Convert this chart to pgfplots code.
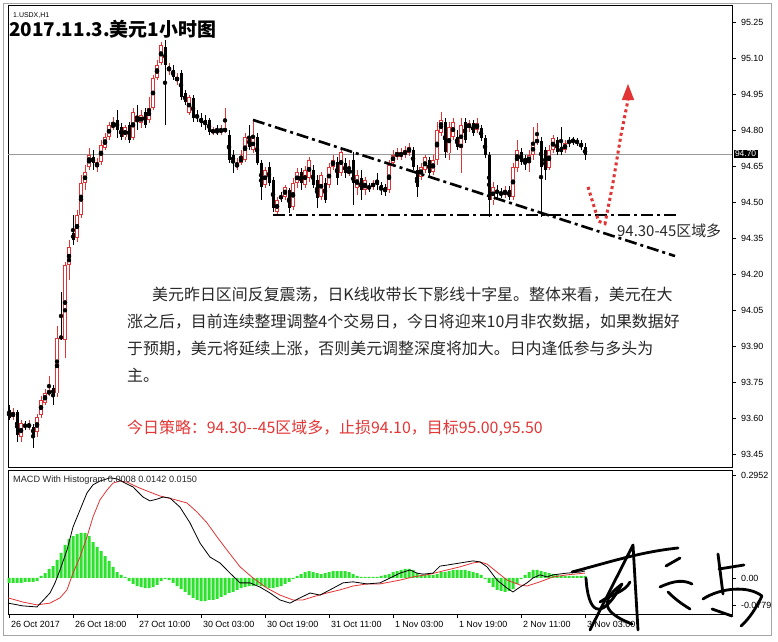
\documentclass[border=0pt]{standalone}
\usepackage{pgfplots}
\pgfplotsset{compat=1.18}
\usepackage{pgfplotstable}
\usepackage{fontspec}
\setmainfont{Liberation Sans}
\newfontfamily\cjk{Noto Sans CJK SC}
\definecolor{cred}{RGB}{226,52,52}
\definecolor{hgreen}{RGB}{44,226,44}
\definecolor{txt}{RGB}{40,40,40}
\definecolor{stratred}{RGB}{228,54,54}
\definecolor{framec}{RGB}{165,165,165}

\pgfplotstableread{
x o h l c
0 93.633 93.654 93.592 93.600
1 93.604 93.642 93.592 93.625
2 93.625 93.633 93.500 93.529
3 93.521 93.592 93.500 93.579
4 93.571 93.588 93.550 93.567
5 93.567 93.592 93.550 93.571
6 93.563 93.575 93.475 93.529
7 93.542 93.617 93.521 93.604
8 93.613 93.692 93.600 93.675
9 93.663 93.721 93.654 93.704
10 93.700 93.775 93.692 93.717
11 93.725 93.738 93.654 93.696
12 93.704 93.983 93.688 93.933
13 93.942 94.125 93.925 93.933
14 93.925 94.250 93.850 94.238
15 94.238 94.342 94.175 94.313
16 94.371 94.446 94.321 94.342
17 94.350 94.467 94.333 94.446
18 94.446 94.613 94.433 94.579
19 94.579 94.654 94.550 94.625
20 94.646 94.725 94.633 94.696
21 94.688 94.717 94.633 94.663
22 94.646 94.683 94.625 94.667
23 94.667 94.758 94.654 94.738
24 94.725 94.788 94.717 94.771
25 94.771 94.833 94.758 94.821
26 94.817 94.854 94.800 94.821
27 94.842 94.883 94.767 94.800
28 94.813 94.829 94.758 94.771
29 94.771 94.821 94.758 94.813
30 94.821 94.833 94.746 94.758
31 94.767 94.892 94.758 94.875
32 94.850 94.904 94.800 94.833
33 94.829 94.883 94.808 94.863
34 94.875 94.892 94.808 94.821
35 94.842 94.938 94.829 94.892
36 94.892 95.029 94.883 95.017
37 95.017 95.092 95.008 95.071
38 95.079 95.167 95.071 95.154
39 95.146 95.175 94.821 95.071
40 95.050 95.079 95.029 95.063
41 95.050 95.071 95.008 95.021
42 95.008 95.038 94.988 95.021
43 95.038 95.050 94.925 94.938
44 94.954 94.967 94.904 94.917
45 94.871 94.946 94.863 94.938
46 94.933 94.946 94.833 94.850
47 94.863 94.883 94.833 94.850
48 94.850 94.871 94.813 94.829
49 94.842 94.863 94.800 94.821
50 94.842 94.850 94.779 94.792
51 94.792 94.813 94.779 94.800
52 94.796 94.821 94.779 94.792
53 94.796 94.821 94.779 94.800
54 94.796 94.892 94.788 94.804
55 94.779 94.800 94.663 94.675
56 94.696 94.717 94.621 94.667
57 94.646 94.683 94.633 94.663
58 94.663 94.717 94.654 94.688
59 94.675 94.788 94.667 94.771
60 94.771 94.821 94.717 94.729
61 94.717 94.842 94.704 94.767
62 94.771 94.788 94.654 94.663
63 94.663 94.675 94.508 94.563
64 94.571 94.646 94.558 94.633
65 94.646 94.667 94.567 94.579
66 94.592 94.604 94.458 94.475
67 94.458 94.521 94.446 94.508
68 94.525 94.542 94.500 94.517
69 94.521 94.571 94.508 94.563
70 94.550 94.558 94.454 94.475
71 94.479 94.600 94.467 94.579
72 94.579 94.642 94.558 94.625
73 94.625 94.642 94.550 94.579
74 94.571 94.650 94.558 94.633
75 94.600 94.688 94.583 94.675
76 94.633 94.654 94.558 94.571
77 94.592 94.613 94.475 94.517
78 94.521 94.625 94.508 94.613
79 94.579 94.600 94.496 94.508
80 94.571 94.663 94.558 94.646
81 94.646 94.696 94.633 94.675
82 94.667 94.688 94.571 94.600
83 94.621 94.725 94.608 94.708
84 94.663 94.683 94.600 94.621
85 94.621 94.675 94.608 94.633
86 94.675 94.708 94.488 94.579
87 94.558 94.633 94.529 94.613
88 94.600 94.633 94.508 94.550
89 94.550 94.604 94.529 94.592
90 94.567 94.579 94.542 94.558
91 94.563 94.592 94.550 94.579
92 94.592 94.621 94.550 94.571
93 94.571 94.583 94.529 94.550
94 94.563 94.575 94.525 94.542
95 94.550 94.675 94.538 94.654
96 94.663 94.717 94.646 94.696
97 94.688 94.725 94.675 94.708
98 94.688 94.725 94.675 94.708
99 94.696 94.733 94.683 94.717
100 94.704 94.746 94.692 94.729
101 94.717 94.729 94.633 94.646
102 94.633 94.654 94.521 94.563
103 94.604 94.663 94.592 94.646
104 94.633 94.696 94.621 94.688
105 94.675 94.688 94.608 94.621
106 94.625 94.696 94.613 94.675
107 94.675 94.833 94.654 94.800
108 94.788 94.875 94.775 94.842
109 94.833 94.850 94.683 94.708
110 94.704 94.833 94.675 94.813
111 94.771 94.850 94.758 94.833
112 94.771 94.800 94.717 94.729
113 94.725 94.850 94.621 94.821
114 94.833 94.850 94.746 94.758
115 94.808 94.842 94.792 94.829
116 94.829 94.842 94.775 94.788
117 94.800 94.850 94.788 94.829
118 94.808 94.821 94.754 94.767
119 94.767 94.779 94.683 94.696
120 94.696 94.708 94.438 94.508
121 94.508 94.583 94.488 94.563
122 94.550 94.571 94.517 94.538
123 94.542 94.558 94.517 94.529
124 94.529 94.567 94.517 94.550
125 94.550 94.567 94.508 94.521
126 94.521 94.663 94.508 94.646
127 94.642 94.758 94.625 94.717
128 94.708 94.725 94.654 94.667
129 94.683 94.696 94.633 94.667
130 94.663 94.717 94.625 94.696
131 94.696 94.813 94.675 94.746
132 94.750 94.829 94.738 94.758
133 94.758 94.771 94.438 94.646
134 94.717 94.729 94.592 94.633
135 94.642 94.738 94.633 94.717
136 94.717 94.779 94.704 94.767
137 94.758 94.771 94.696 94.708
138 94.729 94.813 94.696 94.708
139 94.717 94.758 94.704 94.746
140 94.758 94.771 94.729 94.746
141 94.758 94.771 94.738 94.754
142 94.754 94.767 94.733 94.750
143 94.746 94.758 94.717 94.729
144 94.729 94.746 94.675 94.696
}\candles

\pgfplotstableread{
x v
0 -0.014
1 -0.014
2 -0.014
3 -0.014
4 -0.011
5 -0.011
6 -0.011
7 -0.009
8 0.006
9 0.014
10 0.026
11 0.034
12 0.052
13 0.072
14 0.095
15 0.112
16 0.120
17 0.126
18 0.129
19 0.129
20 0.120
21 0.103
22 0.089
23 0.077
24 0.063
25 0.049
26 0.032
27 0.017
28 0.009
29 0.003
30 -0.009
31 -0.017
32 -0.023
33 -0.026
34 -0.029
35 -0.029
36 -0.026
37 -0.020
38 -0.009
39 -0.003
40 -0.006
41 -0.014
42 -0.023
43 -0.032
44 -0.040
45 -0.049
46 -0.057
47 -0.063
48 -0.066
49 -0.066
50 -0.063
51 -0.063
52 -0.060
53 -0.054
54 -0.049
55 -0.043
56 -0.040
57 -0.034
58 -0.029
59 -0.026
60 -0.023
61 -0.023
62 -0.020
63 -0.023
64 -0.026
65 -0.029
66 -0.029
67 -0.026
68 -0.023
69 -0.017
70 -0.011
71 -0.003
72 0.006
73 0.011
74 0.017
75 0.020
76 0.017
77 0.014
78 0.011
79 0.014
80 0.017
81 0.020
82 0.020
83 0.020
84 0.020
85 0.017
86 0.011
87 0.006
88 0.003
89 0.003
90 0.003
91 0.003
92 0.003
93 0.006
94 0.009
95 0.011
96 0.017
97 0.020
98 0.023
99 0.026
100 0.026
101 0.023
102 0.014
103 0.009
104 0.009
105 0.009
106 0.009
107 0.011
108 0.017
109 0.017
110 0.020
111 0.023
112 0.023
113 0.023
114 0.023
115 0.020
116 0.017
117 0.014
118 0.009
119 -0.003
120 -0.014
121 -0.026
122 -0.034
123 -0.037
124 -0.040
125 -0.037
126 -0.032
127 -0.017
128 -0.003
129 0.009
130 0.017
131 0.023
132 0.023
133 0.020
134 0.017
135 0.014
136 0.011
137 0.009
138 0.006
139 0.006
140 0.006
141 0.006
142 0.006
143 0.006
144 0.006
}\hist

\pgfplotstableread{
x v
-0.25 -0.072
3.5 -0.080
7 -0.083
10.25 -0.043
11.5 -0.014
12.75 0.023
14.5 0.080
16 0.146
17.75 0.195
19.5 0.244
21 0.267
22.75 0.278
25.25 0.287
27 0.284
28.5 0.275
31 0.261
33.5 0.232
35.25 0.221
37 0.226
38.5 0.232
40.25 0.229
42.75 0.203
45.25 0.158
47.75 0.100
50.25 0.060
52.75 0.043
55.25 0.014
57.75 -0.014
60.25 -0.014
62.75 -0.026
65.25 -0.043
67.75 -0.063
70.25 -0.072
72.75 -0.057
75.25 -0.043
77.75 -0.049
80.25 -0.034
83.5 -0.014
86 -0.011
89.5 -0.017
92.75 -0.014
95.25 0.000
97.75 0.014
100.25 0.023
102 0.014
103.5 0.011
106 0.014
107.75 0.034
109.5 0.037
112.75 0.043
116 0.049
117.75 0.046
119.5 0.032
122 -0.006
124.5 -0.029
126 -0.040
127.75 -0.026
129.5 -0.014
131 0.000
132.75 0.009
134.5 0.003
136 0.009
139.5 0.014
142.75 0.017
144 0.020
}\macd

\pgfplotstableread{
x v
-0.25 -0.057
3.5 -0.069
7 -0.077
10.25 -0.072
12.75 -0.057
14.5 -0.034
16 0.014
17.75 0.060
19.5 0.118
21 0.175
22.75 0.224
24.5 0.252
26 0.272
27.75 0.278
29.5 0.275
32 0.261
35.25 0.246
37.75 0.235
41 0.226
44.5 0.215
47 0.189
49.5 0.158
52 0.118
54.5 0.080
57.75 0.032
61 0.000
64.5 -0.029
67.75 -0.049
71 -0.063
73.5 -0.063
76 -0.054
79.5 -0.043
82.75 -0.034
86 -0.023
89.5 -0.017
92.75 -0.017
97.75 -0.006
101 0.003
105.25 0.011
109.5 0.023
112.75 0.032
116 0.043
117.75 0.046
119.5 0.040
122 0.017
124.5 -0.006
127.75 -0.020
129.5 -0.023
132.75 -0.011
136 0.003
139.5 0.009
144 0.014
}\signal

\begin{document}
\begin{tikzpicture}
\useasboundingbox (0,0) rectangle (778bp,642bp);
\fill[white] (0,0) rectangle (778bp,642bp);
\draw[framec, line width=1bp] (3.5bp,6bp) rectangle (771.5bp,638bp);

\begin{axis}[
  at={(8bp,175bp)}, anchor=south west, scale only axis,
  width=724bp, height=462bp,
  xmin=-0.25, xmax=180.75, ymin=93.396, ymax=95.321,
  axis line style={line width=0.8bp},
  xtick=\empty,
  ytick={93.45,93.60,93.75,93.90,94.05,94.20,94.35,94.50,94.65,94.80,94.95,95.10,95.25},
  ytick pos=right, yticklabel pos=right,
  tick align=outside, major tick length=3.5bp,
  tick style={black, line width=0.6bp},
  yticklabel style={font=\fontsize{9}{9}\selectfont, anchor=west, xshift=2bp,
    /pgf/number format/.cd, fixed, fixed zerofill, precision=2, assume math mode=true},
  clip=false,
]
% current price line
\addplot[gray!80, line width=0.7bp, forget plot] coordinates {(-0.25,94.70) (180.75,94.70)};
% wicks
\addplot[only marks, mark=none, forget plot,
  restrict expr to domain={\thisrow{c}-\thisrow{o}}{0:10},
  error bars/.cd, y dir=both, y explicit, error mark=none,
  error bar style={draw=cred, line width=0.9bp}]
  table[x=x, y expr={(\thisrow{h}+\thisrow{l})/2}, y error expr={(\thisrow{h}-\thisrow{l})/2}] {\candles};
\addplot[only marks, mark=none, forget plot,
  restrict expr to domain={\thisrow{o}-\thisrow{c}}{0.0001:10},
  error bars/.cd, y dir=both, y explicit, error mark=none,
  error bar style={draw=black, line width=0.9bp}]
  table[x=x, y expr={(\thisrow{h}+\thisrow{l})/2}, y error expr={(\thisrow{h}-\thisrow{l})/2}] {\candles};
% bodies
\addplot[only marks, mark=none, forget plot,
  restrict expr to domain={\thisrow{o}-\thisrow{c}}{0.0001:10},
  error bars/.cd, y dir=both, y explicit, error mark=none,
  error bar style={draw=black, line width=3bp}]
  table[x=x, y expr={(\thisrow{o}+\thisrow{c})/2}, y error expr={max((\thisrow{o}-\thisrow{c})/2,0.0021)}] {\candles};
\addplot[only marks, mark=none, forget plot,
  restrict expr to domain={\thisrow{c}-\thisrow{o}}{0:10},
  error bars/.cd, y dir=both, y explicit, error mark=none,
  error bar style={draw=cred, line width=3.2bp}]
  table[x=x, y expr={(\thisrow{o}+\thisrow{c})/2}, y error expr={max((\thisrow{c}-\thisrow{o})/2,0.0021)}] {\candles};
\addplot[only marks, mark=none, forget plot,
  restrict expr to domain={\thisrow{c}-\thisrow{o}}{0:10},
  error bars/.cd, y dir=both, y explicit, error mark=none,
  error bar style={draw=white, line width=1.2bp}]
  table[x=x, y expr={(\thisrow{o}+\thisrow{c})/2}, y error expr={max((\thisrow{c}-\thisrow{o})/2-0.0036,0)}] {\candles};
% trend lines
\addplot[black, line width=2.6bp, dash pattern=on 12bp off 4bp on 3bp off 4bp, forget plot]
  coordinates {(61,94.842) (166.5,94.275)};
\addplot[black, line width=2.6bp, dash pattern=on 12bp off 4bp on 3bp off 4bp, forget plot]
  coordinates {(66,94.446) (167.75,94.446)};
% red dotted arrow
\draw[cred, line width=3bp, dash pattern=on 3bp off 3bp]
  (axis cs:144.75,94.563) -- (axis cs:147.4,94.42) -- (axis cs:149,94.41) -- (axis cs:151,94.58) -- (axis cs:153,94.78) -- (axis cs:154.75,94.925);
\fill[cred] (axis cs:154.75,94.992) -- (axis cs:153.2,94.925) -- (axis cs:156.3,94.925) -- cycle;
\node[anchor=base west, inner sep=0, text=txt, font=\cjk\fontsize{15}{15}\selectfont] at (axis cs:152,94.358) {94.30-45区域多};
\node[fill=black, text=white, anchor=west, inner sep=1.4bp, font=\fontsize{8.5}{8.5}\selectfont] at (axis cs:181.1,94.70) {94.70};
\end{axis}

\begin{axis}[
  at={(8bp,28bp)}, anchor=south west, scale only axis,
  width=724bp, height=144bp,
  xmin=-0.25, xmax=180.75, ymin=-0.1032, ymax=0.3095,
  axis line style={line width=0.8bp},
  xtick={0,16,32,48,64,80,96,112,128,144},
  xticklabels={26 Oct 2017,26 Oct 18:00,27 Oct 10:00,30 Oct 03:00,30 Oct 19:00,31 Oct 11:00,1 Nov 03:00,1 Nov 19:00,2 Nov 11:00,3 Nov 03:00},
  xtick pos=bottom,
  xticklabel style={font=\fontsize{9}{9}\selectfont, anchor=north west, xshift=-1.5bp},
  ytick={-0.0779,0,0.2952},
  yticklabels={-0.0779,0.00,0.2952},
  ytick pos=right, yticklabel pos=right,
  yticklabel style={font=\fontsize{9}{9}\selectfont, anchor=west, xshift=2bp},
  tick align=outside, major tick length=3.5bp,
  tick style={black, line width=0.6bp},
  clip=false,
]
\addplot[ybar, bar width=3bp, fill=hgreen, draw=none, forget plot] table[x=x, y=v] {\hist};
\addplot[cred, line width=0.8bp, forget plot] table[x=x, y=v] {\signal};
\addplot[black, line width=0.8bp, forget plot] table[x=x, y=v] {\macd};
\end{axis}

% texts
\node[anchor=base west, inner sep=0, font=\fontsize{7}{7}\selectfont] at (13bp,624bp) {1.USDX,H1};
\node[anchor=base west, inner sep=0, font=\cjk\bfseries\fontsize{19}{20}\selectfont] at (9bp,605bp) {2017.11.3.美元1小时图};
\node[anchor=base west, inner sep=0, font=\fontsize{9.2}{9}\selectfont, text=black!85] at (13bp,159bp) {MACD With Histogram 0.0008 0.0142 0.0150};

\begin{scope}[font=\cjk\fontsize{16}{16}\selectfont, text=txt]
\node[anchor=base west, inner sep=0] at (152bp,341.5bp) {美元昨日区间反复震荡，日K线收带长下影线十字星。整体来看，美元在大};
\node[anchor=base west, inner sep=0] at (127bp,314.5bp) {涨之后，目前连续整理调整4个交易日，今日将迎来10月非农数据，如果数据好};
\node[anchor=base west, inner sep=0] at (127bp,287.5bp) {于预期，美元将延续上涨，否则美元调整深度将加大。日内逢低参与多头为};
\node[anchor=base west, inner sep=0] at (127bp,260bp) {主。};
\node[anchor=base west, inner sep=0, text=stratred] at (127bp,208bp) {今日策略：94.30--45区域多，止损94.10，目标95.00,95.50};
\end{scope}

% signature
\begin{scope}[x=1bp, y=1bp, line width=2.8bp, line cap=round, line join=round, black]
\draw (590,12) -- (633,97) -- (638,12);
\draw (572,70) .. controls (610,80) and (640,90) .. (678,94);
\draw (586,64) .. controls (588,30) and (600,18) .. (622,58) .. controls (605,45) and (596,32) .. (632,18);
\draw (600,40) .. controls (612,48) and (625,50) .. (630,60);
\draw (666,76) -- (680,84);
\draw (660,55) .. controls (675,62) and (684,62) .. (692,58);
\draw (668,50) .. controls (676,42) and (682,38) .. (690,33);
\draw (718,88) -- (723,48);
\draw (719,73) -- (744,77);
\draw (703,43) .. controls (720,54) and (748,57) .. (762,46) .. controls (756,34) and (750,24) .. (741,16);
\draw (712,33) -- (732,26);
\end{scope}
\end{tikzpicture}
\end{document}
